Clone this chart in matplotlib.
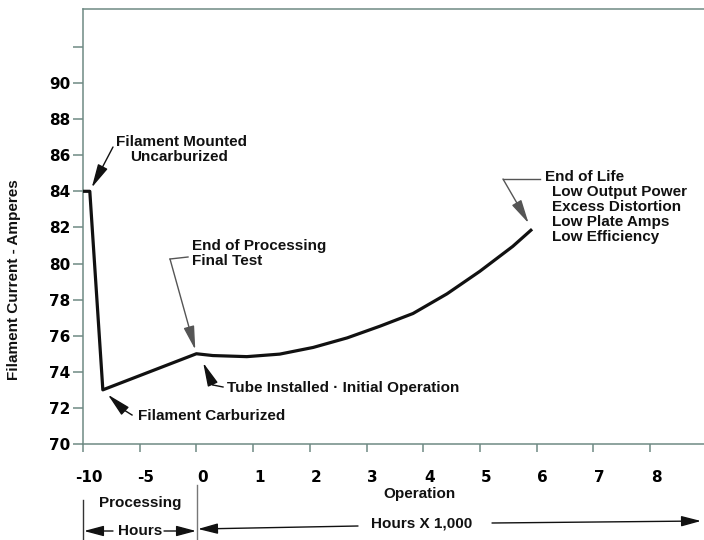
import matplotlib
matplotlib.use('Agg')
import matplotlib.pyplot as plt
from matplotlib.patches import FancyArrowPatch
from matplotlib.lines import Line2D
from matplotlib.transforms import ScaledTranslation

# ---------------- data ----------------
proc_hours = [-10.0, -9.4, -8.25, 0.0]          # processing hours
proc_amps = [84.0, 84.0, 73.0, 75.0]
op_khours = [0.0, 0.29, 0.89, 1.47, 2.06, 2.66, 3.24, 3.82, 4.42, 5.00, 5.58, 5.92]  # hours x 1,000
op_amps = [75.0, 74.9, 74.84, 74.98, 75.35, 75.88, 76.53, 77.23, 78.32, 79.57, 80.95, 81.9]

x_tick_labels = ['-10', '-5', '0', '1', '2', '3', '4', '5', '6', '7', '8']
y_ticks = list(range(70, 93, 2))
y_tick_labels = [str(v) if v <= 90 else '' for v in y_ticks]

# ---------------- layout ----------------
W, H = 704, 540
fig = plt.figure(figsize=(W / 100, H / 100), dpi=100)
ax = fig.add_axes([83 / W, 1 - 444 / H, (W - 83) / W, (444 - 9) / H])

TXT = dict(family=['Liberation Sans', 'DejaVu Sans'], fontweight='bold', fontsize=11, color='#111111')
TICKF = dict(family=['DejaVu Sans'], fontweight='bold', fontsize=11)
SPINE = '#6f8a84'


def proc_pos(h):
    return (h + 10) / 5.0


def op_pos(t):
    return 2.0 + t


def fpx(x, y):
    return (x / W, 1 - y / H)


xs = [proc_pos(h) for h in proc_hours] + [op_pos(t) for t in op_khours]
ys = proc_amps + op_amps
ax.plot(xs, ys, color='#111111', lw=2.3, solid_joinstyle='round', solid_capstyle='butt', zorder=3)

ax.set_xlim(0, (W - 83) / 56.7)
ax.set_ylim(70, 70 + (444 - 9) / 18.05)

ax.set_xticks(range(len(x_tick_labels)))
ax.set_xticklabels(x_tick_labels, **TICKF)
ax.set_yticks(y_ticks)
ax.set_yticklabels(y_tick_labels, **TICKF)
ax.tick_params(axis='x', direction='out', length=6, width=1.1, color=SPINE, pad=13)
ax.tick_params(axis='y', direction='out', length=7, width=1.1, color=SPINE, pad=2)
for lab in ax.get_xticklabels():
    lab.set_transform(lab.get_transform() + ScaledTranslation(6 / 100, 0, fig.dpi_scale_trans))

for s in ['left', 'bottom', 'top']:
    ax.spines[s].set_color(SPINE)
    ax.spines[s].set_linewidth(1.1)
ax.spines['right'].set_visible(False)

fig.text(14 / W, 1 - 280 / H, 'Filament Current - Amperes', rotation=90,
         ha='center', va='center', **TXT)

# ---------------- annotations ----------------
HEAD = '-|>,head_length=1.45,head_width=0.33'


def arrow(start_px, target, coords, color='#111111', shrinkB=0, lw=1.0):
    ax.annotate('', xy=target, xycoords=coords, xytext=fpx(*start_px),
                textcoords='figure fraction', annotation_clip=False,
                arrowprops=dict(arrowstyle=HEAD, mutation_scale=10, color=color,
                                lw=lw, shrinkA=0, shrinkB=shrinkB))


def leader(pts, color='#111111', lw=1.0):
    fx = [p[0] / W for p in pts]
    fy = [1 - p[1] / H for p in pts]
    fig.add_artist(Line2D(fx, fy, transform=fig.transFigure, color=color, lw=lw))


def label(x, y, s, ha='left'):
    fig.text(x / W, 1 - y / H, s, ha=ha, va='center', **TXT)


# Filament Mounted
label(182, 142, 'Filament Mounted', ha='center')
label(179, 157, 'Uncarburized', ha='center')
arrow((113, 147), (proc_pos(proc_hours[1]), proc_amps[1]), 'data', shrinkB=3)

# End of Processing
label(192, 246, 'End of Processing')
label(192, 261, 'Final Test')
leader([(188, 257), (170, 259)], color='#555555')
arrow((170, 259), (proc_pos(proc_hours[-1]), proc_amps[-1]), 'data', color='#555555', shrinkB=3)

# Tube installed
label(227, 388, 'Tube Installed \u00b7 Initial Operation')
leader([(213, 385), (223, 387)])
arrow((213, 385), (2.12, 74.5), 'data')

# Filament Carburized
label(138, 416, 'Filament Carburized')
leader([(124, 410), (132, 415)])
arrow((124, 410), (proc_pos(proc_hours[2]), proc_amps[2]), 'data', shrinkB=5)

# End of life
label(545, 177, 'End of Life')
for i, s in enumerate(['Low Output Power', 'Excess Distortion', 'Low Plate Amps', 'Low Efficiency']):
    label(552, 192 + 15 * i, s)
leader([(540, 179), (503, 179)], color='#555555')
arrow((503, 179), (op_pos(op_khours[-1]), op_amps[-1]), 'data', color='#555555', shrinkB=5)

# ---------------- bottom scale legend ----------------
label(140, 503, 'Processing', ha='center')
label(140, 531, 'Hours', ha='center')
label(420, 494, 'Operation', ha='center')
label(422, 524, 'Hours X 1,000', ha='center')

leader([(83, 500), (83, 540)], color='#333333')
leader([(197, 485), (197, 540)], color='#777777')

BHEAD = '-|>,head_length=1.2,head_width=0.32'


def fig_arrow(p0, p1):
    fig.add_artist(FancyArrowPatch(fpx(*p0), fpx(*p1), transform=fig.transFigure,
                                   arrowstyle=BHEAD, mutation_scale=10, color='#111111',
                                   lw=1.0, shrinkA=0, shrinkB=0))


fig_arrow((113, 531), (84, 531))
fig_arrow((164, 531), (196, 531))
fig_arrow((358, 526), (198, 529))
fig_arrow((492, 523), (701, 521))

fig.savefig('out.png', dpi=100)
